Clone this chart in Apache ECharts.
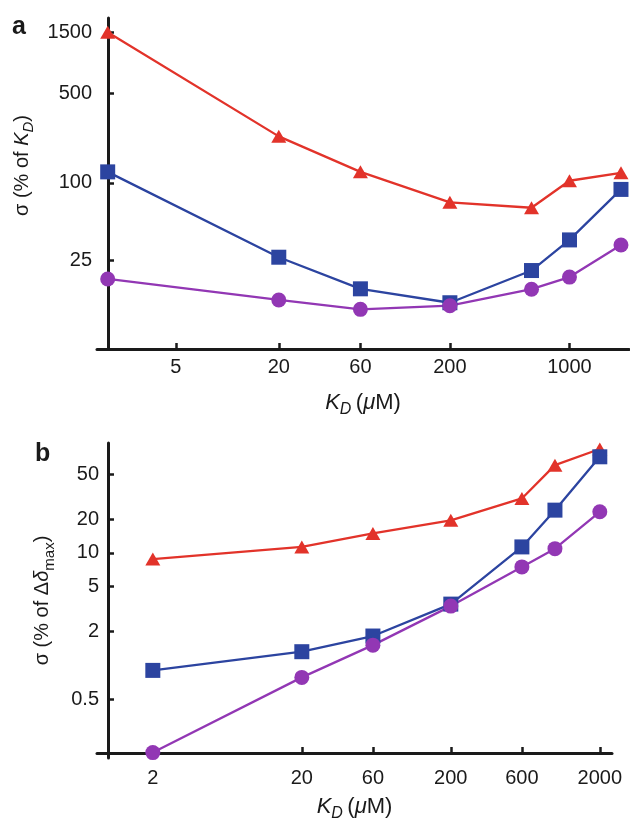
<!DOCTYPE html>
<html>
<head>
<meta charset="utf-8">
<script src="https://cdn.jsdelivr.net/npm/echarts@6/dist/echarts.min.js"></script>
<style>
html,body{margin:0;padding:0;background:#fff;}
#c{width:630px;height:829px;}
</style>
</head>
<body>
<div id="c"></div>
<script>
// ---- data ----
const kdValues = [2, 20, 60, 200, 600, 1000, 2000];
// panel a: sigma (% of K_D)
const aRed    = [1500, 231, 122, 70.6, 64, 104, 120];
const aBlue   = [122, 26.3, 14.9, 11.6, 20.7, 35.9, 89];
const aPurple = [17.8, 12.2, 10.3, 11.0, 14.8, 18.4, 32.8];
// panel b: sigma (% of delta max)
const bRed    = [8.8, 11.3, 14.9, 19.5, 30.5, 60.3, 84];
const bBlue   = [0.90, 1.32, 1.82, 3.50, 11.3, 24, 71.6];
const bPurple = [0.167, 0.78, 1.51, 3.36, 7.5, 10.9, 23.2];
// tick labels
const aXTicks = [5, 20, 60, 200, 1000];
const aYTicks = [25, 100, 500, 1500];
const bXTicks = [2, 20, 60, 200, 600, 2000];
const bYTicks = [0.5, 2, 5, 10, 20, 50];

const FONT = "'Liberation Sans', Arial, Helvetica, sans-serif";
const INK = '#1a1a1a';
const RED = '#e2332a', BLUE = '#2c44a0', PURPLE = '#9237b4';

function pairs(ys){ return kdValues.map((x,i)=>[x, ys[i]]); }
function fmt(v){ return String(+Number(v).toPrecision(6)); }

function axisBase(ticks, margin){
  return {
    type: 'log', logBase: 10,
    axisLine: {show: true, lineStyle: {color: INK, width: 3}},
    axisTick: {show: true, inside: true, length: 6, lineStyle: {color: INK, width: 2.5}, customValues: ticks},
    axisLabel: {show: true, customValues: ticks, formatter: fmt, fontSize: 20, fontFamily: FONT, color: INK, margin: margin},
    splitLine: {show: false}, minorTick: {show: false}, minorSplitLine: {show: false}
  };
}
function rich(fs, ss){
  return {
    n: {fontSize: fs, fontFamily: FONT, color: INK, lineHeight: fs + 9, verticalAlign: 'middle'},
    i: {fontSize: fs, fontFamily: FONT, color: INK, fontStyle: 'italic', lineHeight: fs + 9, verticalAlign: 'middle'},
    s: {fontSize: ss, fontFamily: FONT, color: INK, fontStyle: 'italic', lineHeight: ss, verticalAlign: 'bottom'},
    sn: {fontSize: ss, fontFamily: FONT, color: INK, lineHeight: ss, verticalAlign: 'bottom'}
  };
}

function line(name, ys, color, symbol, size, xi){
  return {
    type: 'line', name: name, xAxisIndex: xi, yAxisIndex: xi,
    data: pairs(ys), symbol: symbol, symbolSize: size,
    lineStyle: {color: color, width: 2.3}, itemStyle: {color: color},
    showSymbol: true, z: 3
  };
}

const chart = echarts.init(document.getElementById('c'), null, {renderer: 'canvas'});
chart.setOption({
  animation: false,
  backgroundColor: '#fff',
  grid: [
    {left: 97, right: 1, top: 18, bottom: 480, containLabel: false, outerBoundsMode: 'none'},
    {left: 97, right: 18, top: 443, bottom: 71, containLabel: false, outerBoundsMode: 'none'}
  ],
  xAxis: [
    Object.assign(axisBase(aXTicks, 8), {gridIndex: 0, min: 1.732, max: 2228,
      name: '{i|K}{s|D }{n|(}{i|μ}{n|M)}', nameLocation: 'middle', nameGap: 38,
      nameTextStyle: {rich: rich(22, 16)}}),
    Object.assign(axisBase(bXTicks, 15), {gridIndex: 1, min: 0.844, max: 2415, offset: -5,
      name: '{i|K}{s|D }{n|(}{i|μ}{n|M)}', nameLocation: 'middle', nameGap: 38,
      nameTextStyle: {rich: rich(22, 16)}})
  ],
  yAxis: [
    Object.assign(axisBase(aYTicks, 16), {gridIndex: 0, min: 5.05, max: 1940, offset: -11,
      name: '{n|σ (% of }{i|K}{s|D}{n|)}', nameLocation: 'middle', nameRotate: 90, nameGap: 50,
      nameTextStyle: {rich: rich(20, 15), padding: [0, 0, 0, 36]}}),
    Object.assign(axisBase(bYTicks, 9), {gridIndex: 1, min: 0.1495, max: 95, offset: -11,
      name: '{n|σ (% of Δ}{i|δ}{sn|max}{n|)}', nameLocation: 'middle', nameRotate: 90, nameGap: 51,
      nameTextStyle: {rich: rich(20, 15)}})
  ],
  series: [
    line('a-red', aRed, RED, 'triangle', [15, 13], 0),
    line('a-blue', aBlue, BLUE, 'rect', 15, 0),
    line('a-purple', aPurple, PURPLE, 'circle', 15, 0),
    line('b-red', bRed, RED, 'triangle', [15, 13], 1),
    line('b-blue', bBlue, BLUE, 'rect', 15, 1),
    line('b-purple', bPurple, PURPLE, 'circle', 15, 1)
  ],
  graphic: [
    {type: 'text', left: 12, top: 15, style: {text: 'a', fontSize: 25, fontWeight: 'bold', fontFamily: FONT, fill: INK}},
    {type: 'text', left: 35, top: 442, style: {text: 'b', fontSize: 25, fontWeight: 'bold', fontFamily: FONT, fill: INK}}
  ]
});
</script>
</body>
</html>
